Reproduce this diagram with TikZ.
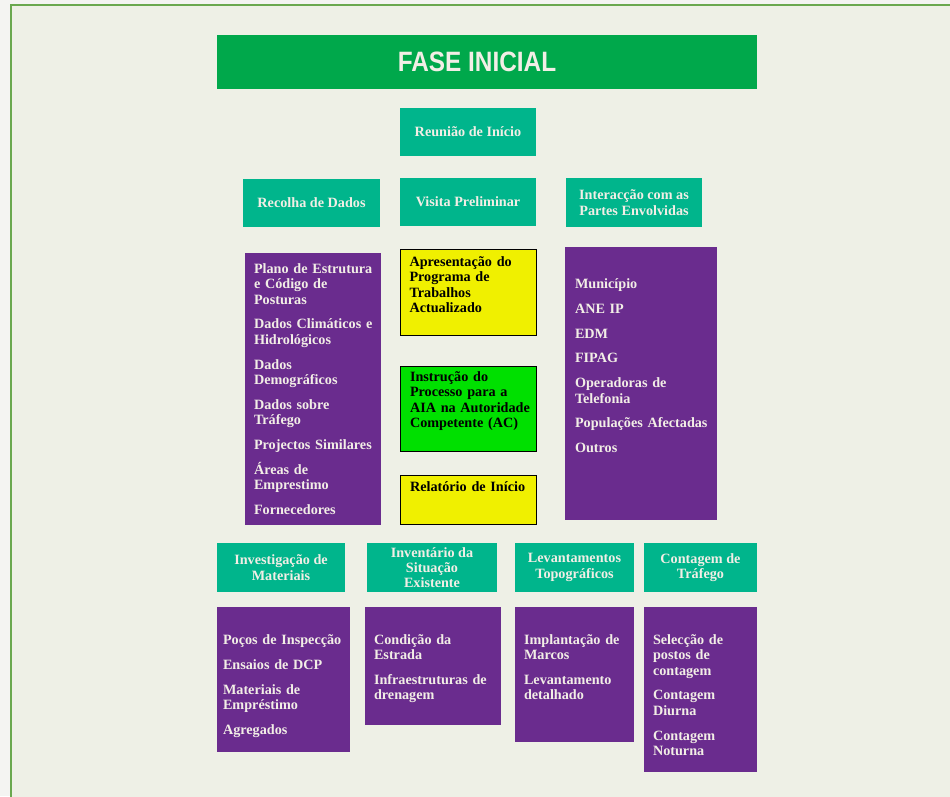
\documentclass[tikz,border=0pt]{standalone}
\usepackage{fontspec}
\setmainfont{Liberation Serif}
\newfontfamily\titlefont{Liberation Sans}[FakeStretch=0.87]
\definecolor{outsidec}{HTML}{F4F4F2}
\definecolor{bgc}{HTML}{EEF0E6}
\definecolor{framec}{HTML}{6AA84F}
\definecolor{titlec}{HTML}{00A84B}
\definecolor{tealc}{HTML}{00B58C}
\definecolor{purplec}{HTML}{6A2C8E}
\definecolor{yellowc}{HTML}{F0F000}
\definecolor{greenc}{HTML}{00E000}
\definecolor{txtc}{HTML}{F2EEE6}
\newcommand\tfont{\fontsize{14.2}{15.3}\selectfont\bfseries}
\tikzset{
  boxbase/.style={rectangle, inner sep=0pt, outer sep=0pt},
  tealbox/.style={boxbase, fill=tealc, text=txtc, align=center, font=\tfont},
  purplebox/.style={boxbase, fill=purplec},
  yellowbox/.style={boxbase, fill=yellowc, draw=black, line width=0.8pt},
  greenbox/.style={boxbase, fill=greenc, draw=black, line width=0.8pt},
  ltext/.style={inner sep=0pt, outer sep=0pt, anchor=base west, text width=150pt, align=left, font=\tfont, text=txtc},
  dtext/.style={ltext, text=black},
}
\begin{document}
\begin{tikzpicture}[x=1pt,y=-1pt]
\useasboundingbox (0,0) rectangle (950,796);
\fill[outsidec] (0,0) rectangle (950,796);
\filldraw[fill=bgc, draw=framec, line width=1.5pt] (11,5) rectangle (965,815);

% title
\node[boxbase, fill=titlec, minimum width=540pt, minimum height=54pt] (title) at (487,62) {};
\node[inner sep=0pt, text=txtc, font=\titlefont\bfseries\fontsize{28}{30}\selectfont] (titletext) at (477,62) {FASE INICIAL};

% top headers
\node[tealbox, minimum width=136pt, minimum height=48pt] (reu) at (468,132) {Reunião de Início};
\node[tealbox, minimum width=136pt, minimum height=48pt] (vis) at (468,202) {Visita Preliminar};
\node[tealbox, minimum width=137pt, minimum height=48pt] (rec) at (311.5,203) {Recolha de Dados};
\node[tealbox, minimum width=136pt, minimum height=49pt] (int) at (634,202.5) {Interacção com as\\Partes Envolvidas};

% left purple
\node[purplebox, minimum width=136pt, minimum height=272pt] (pl) at (313,389) {};
\node[ltext] (plt) at (254,273.5) {Plano de Estrutura\\e Código de\\Posturas\\[9.5pt]Dados Climáticos e\\Hidrológicos\\[9.5pt]Dados\\Demográficos\\[9.5pt]Dados sobre\\Tráfego\\[9.5pt]Projectos Similares\\[9.5pt]Áreas de\\Emprestimo\\[9.5pt]Fornecedores};

% middle column
\node[yellowbox, minimum width=136pt, minimum height=86pt] (ap) at (468,292) {};
\node[dtext] (apt) at (409.5,266.5) {Apresentação do\\Programa de\\Trabalhos\\Actualizado};
\node[greenbox, minimum width=136pt, minimum height=85pt] (ins) at (468,408.5) {};
\node[dtext] (inst) at (410,381.5) {Instrução do\\Processo para a\\AIA na Autoridade\\Competente (AC)};
\node[yellowbox, minimum width=136pt, minimum height=49pt] (rel) at (468,499.5) {};
\node[dtext] (relt) at (410,491.5) {Relatório de Início};

% right purple
\node[purplebox, minimum width=152pt, minimum height=273pt] (pr) at (641,383.5) {};
\node[ltext] (prt) at (575,288.5) {Município\\[9.5pt]ANE IP\\[9.5pt]EDM\\[9.5pt]FIPAG\\[9.5pt]Operadoras de\\Telefonia\\[9.5pt]Populações Afectadas\\[9.5pt]Outros};

% bottom headers
\node[tealbox, minimum width=128pt, minimum height=49pt] (h1) at (281,567.5) {Investigação de\\Materiais};
\node[tealbox, minimum width=130pt, minimum height=49pt] (h2) at (432,567.5) {Inventário da\\Situação\\Existente};
\node[tealbox, minimum width=119pt, minimum height=49pt] (h3) at (574.5,567.5) {Levantamentos\\Topográficos};
\node[tealbox, minimum width=113pt, minimum height=49pt] (h4) at (700.5,567.5) {Contagem de\\Tráfego};

% bottom purple boxes
\node[purplebox, minimum width=133pt, minimum height=145pt] (b1) at (283.5,679.5) {};
\node[ltext] (b1t) at (223,644.5) {Poços de Inspecção\\[9.5pt]Ensaios de DCP\\[9.5pt]Materiais de\\Empréstimo\\[9.5pt]Agregados};
\node[purplebox, minimum width=136pt, minimum height=118pt] (b2) at (433,666) {};
\node[ltext] (b2t) at (374,644.5) {Condição da\\Estrada\\[9.5pt]Infraestruturas de\\drenagem};
\node[purplebox, minimum width=119pt, minimum height=135pt] (b3) at (574.5,674.5) {};
\node[ltext] (b3t) at (524,644.5) {Implantação de\\Marcos\\[9.5pt]Levantamento\\detalhado};
\node[purplebox, minimum width=113pt, minimum height=165pt] (b4) at (700.5,689.5) {};
\node[ltext] (b4t) at (653,644.5) {Selecção de\\postos de\\contagem\\[9.5pt]Contagem\\Diurna\\[9.5pt]Contagem\\Noturna};
\end{tikzpicture}
\end{document}
